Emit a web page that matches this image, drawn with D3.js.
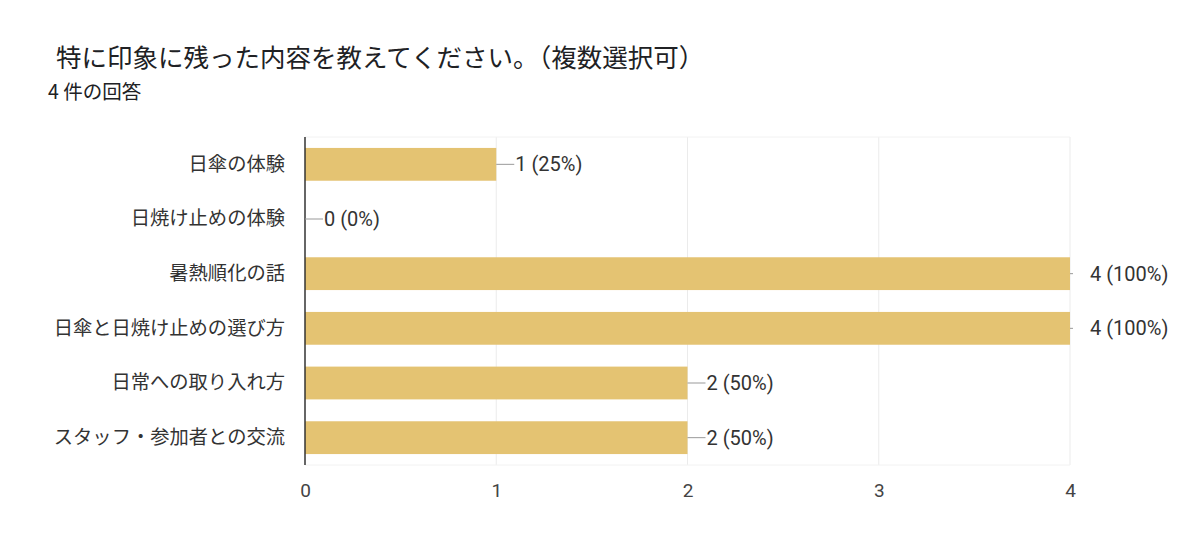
<!DOCTYPE html>
<html><head><meta charset="utf-8">
<script src="https://cdn.jsdelivr.net/npm/d3@7/dist/d3.min.js"></script>
<style>body{margin:0;background:#fff;}svg{display:block;font-family:"Noto Sans CJK JP","Noto Sans",Roboto,sans-serif;}</style>
</head><body>
<script>
const title = "特に印象に残った内容を教えてください。（複数選択可）";
const subtitle = "4 件の回答";
const categories = ["日傘の体験","日焼け止めの体験","暑熱順化の話","日傘と日焼け止めの選び方","日常への取り入れ方","スタッフ・参加者との交流"];
const values = [1,0,4,4,2,2];
const percents = ["25%","0%","100%","100%","50%","50%"];
const ticks = [0,1,2,3,4];

const W=1200,H=552;
const svg=d3.select("body").append("svg").attr("width",W).attr("height",H);
const m={left:305,right:1070,top:137,bottom:465};
const x=d3.scaleLinear().domain([0,4]).range([m.left,m.right]);
const y=d3.scaleBand().domain(categories).range([m.top,m.bottom]).paddingInner(0.4).paddingOuter(0.2);

svg.append("text").attr("x",56).attr("y",67).attr("font-size",25.5).attr("fill","#202124").text(title);
svg.append("text").attr("x",48).attr("y",99).attr("font-size",19.5).attr("fill","#202124").text(subtitle);

// grid
svg.append("g").selectAll("line").data(ticks.filter(d=>d>0)).join("line")
 .attr("x1",d=>x(d)).attr("x2",d=>x(d)).attr("y1",m.top).attr("y2",m.bottom)
 .attr("stroke","#ebebeb").attr("stroke-width",1);
svg.append("line").attr("x1",m.left).attr("x2",m.right).attr("y1",m.top).attr("y2",m.top).attr("stroke","#f2f2f2");
svg.append("line").attr("x1",m.left).attr("x2",m.right).attr("y1",m.bottom).attr("y2",m.bottom).attr("stroke","#f2f2f2");

// bars
svg.append("g").selectAll("rect").data(values).join("rect")
 .attr("x",x(0)).attr("y",(d,i)=>y(categories[i])).attr("width",d=>x(d)-x(0)).attr("height",y.bandwidth())
 .attr("fill","#e4c372");

// zero line
svg.append("line").attr("x1",x(0)).attr("x2",x(0)).attr("y1",m.top).attr("y2",m.bottom).attr("stroke","#333").attr("stroke-width",1.5);

// value labels with connector
const lab=svg.append("g");
values.forEach((v,i)=>{
  const cy=y(categories[i])+y.bandwidth()/2;
  const full = v===4;
  const x0=x(v), x1= full? x(v)+3 : x(v)+18;
  lab.append("line").attr("x1",x0).attr("x2",x1).attr("y1",cy).attr("y2",cy).attr("stroke","#999").attr("stroke-width",1);
  lab.append("text").attr("x",full? x(v)+20 : x1+1).attr("y",cy).attr("dy","0.35em").attr("font-size",20).attr("fill","#333")
   .attr("font-family","Roboto,Arial,sans-serif").text(v+" ("+percents[i]+")");
});

// category labels
const ax=d3.axisLeft(y).tickSize(0).tickPadding(20);
const gy=svg.append("g").attr("transform",`translate(${m.left},0)`).call(ax);
gy.select(".domain").remove();
gy.selectAll("text").attr("font-size",19.3).attr("fill","#333").attr("font-family","'Noto Sans CJK JP',sans-serif");

// x axis
const axb=d3.axisBottom(x).tickValues(ticks).tickFormat(d3.format("d")).tickSize(0).tickPadding(19);
const gx=svg.append("g").attr("transform",`translate(0,${m.bottom})`).call(axb);
gx.select(".domain").remove();
gx.selectAll("text").attr("font-size",19).attr("fill","#444").attr("font-family","Roboto,Arial,sans-serif");
</script>
</body></html>
